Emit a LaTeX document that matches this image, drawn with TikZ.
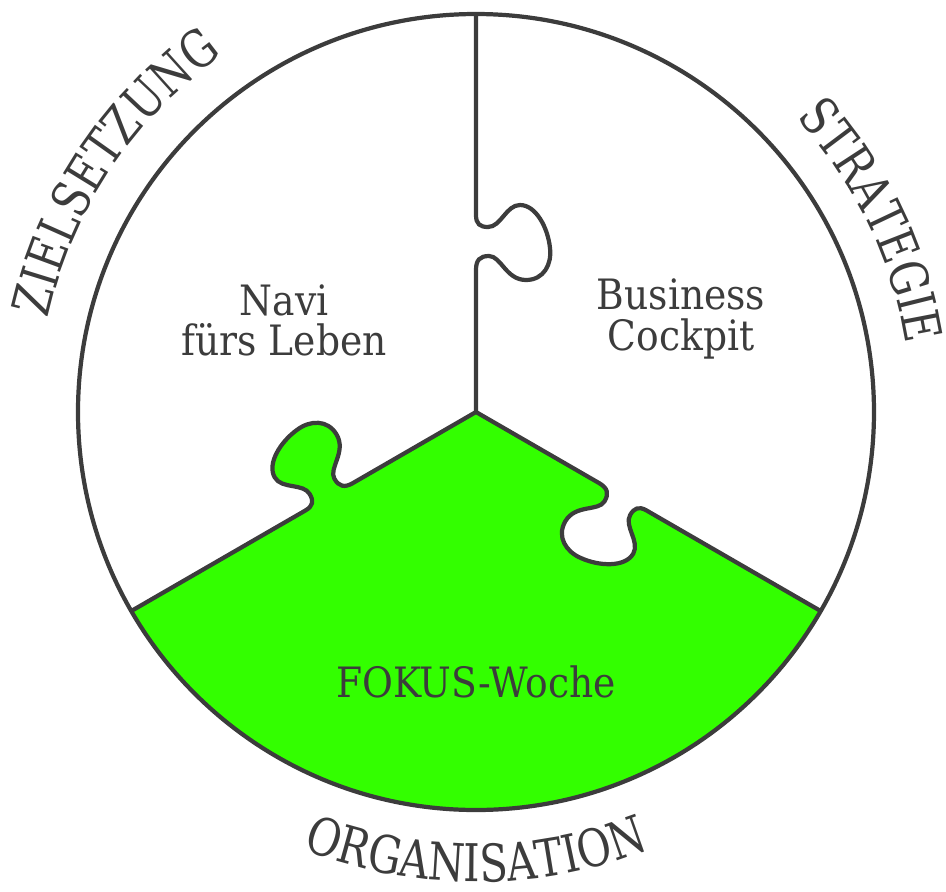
\documentclass[tikz,border=0pt]{standalone}
\usepackage{fontspec}
\setmainfont{DejaVu Serif}[FakeStretch=0.9]
\newfontfamily\rimfont{DejaVu Serif}[FakeStretch=0.8]
\usetikzlibrary{decorations.text}
\definecolor{linegray}{RGB}{60,60,60}
\definecolor{fokusgreen}{RGB}{51,255,0}
\newcommand{\knob}{-- (0,1.42)
  .. controls (0,1.52) and (0.04,1.56) .. (0.13,1.56)
  .. controls (0.25,1.56) and (0.30,1.32) .. (0.50,1.32)
  .. controls (0.68,1.32) and (0.76,1.48) .. (0.74,1.64)
  .. controls (0.72,1.84) and (0.60,2.07) .. (0.44,2.07)
  .. controls (0.30,2.07) and (0.25,1.85) .. (0.12,1.85)
  .. controls (0.04,1.85) and (0,1.88) .. (0,1.97)}
\tikzset{
  piece/.style={align=center, font=\fontsize{11.9}{11.6}\selectfont},
  rimtext/.style={decorate, decoration={text along path, text align=center,
    text={|\rimfont\fontsize{14.8}{15}\selectfont\color{linegray}|#1}}}
}
\begin{document}
\begin{tikzpicture}[line width=1.2pt, color=linegray, line join=round]
  \useasboundingbox (-4.76,-4.79) rectangle (4.70,4.12);
  \fill[fokusgreen] (0,0) -- (-30:3.98) arc[start angle=-30, end angle=-150, radius=3.98] -- cycle;
  \fill[fokusgreen, rotate=120] (0,1.42) \knob -- (-0.06,1.97) -- (-0.06,1.42) -- cycle;
  \fill[white, rotate=-120] (0,1.42) \knob -- (-0.06,1.97) -- (-0.06,1.42) -- cycle;
  \draw (0,0) circle[radius=3.98];
  \foreach \ang in {0,120,-120}
    \draw[rotate=\ang] (0,0) \knob -- (0,3.98);
  \node (navi) at (-1.92,0.915) [piece] {Navi\\fürs Leben};
  \node (cockpit) at (2.05,0.93) [piece] {Business\\Cockpit};
  \node (fokus) at (0,-2.70) [piece] {FOKUS-Woche};
  \path[rimtext=ZIELSETZUNG] (171.5:4.38) arc[start angle=171.5, end angle=121.5, radius=4.38];
  \path[rimtext=STRATEGIE] (55.75:4.35) arc[start angle=55.75, end angle=-4.25, radius=4.35];
  \path[rimtext=ORGANISATION] (225:4.70) arc[start angle=225, end angle=315, radius=4.70];
\end{tikzpicture}
\end{document}
